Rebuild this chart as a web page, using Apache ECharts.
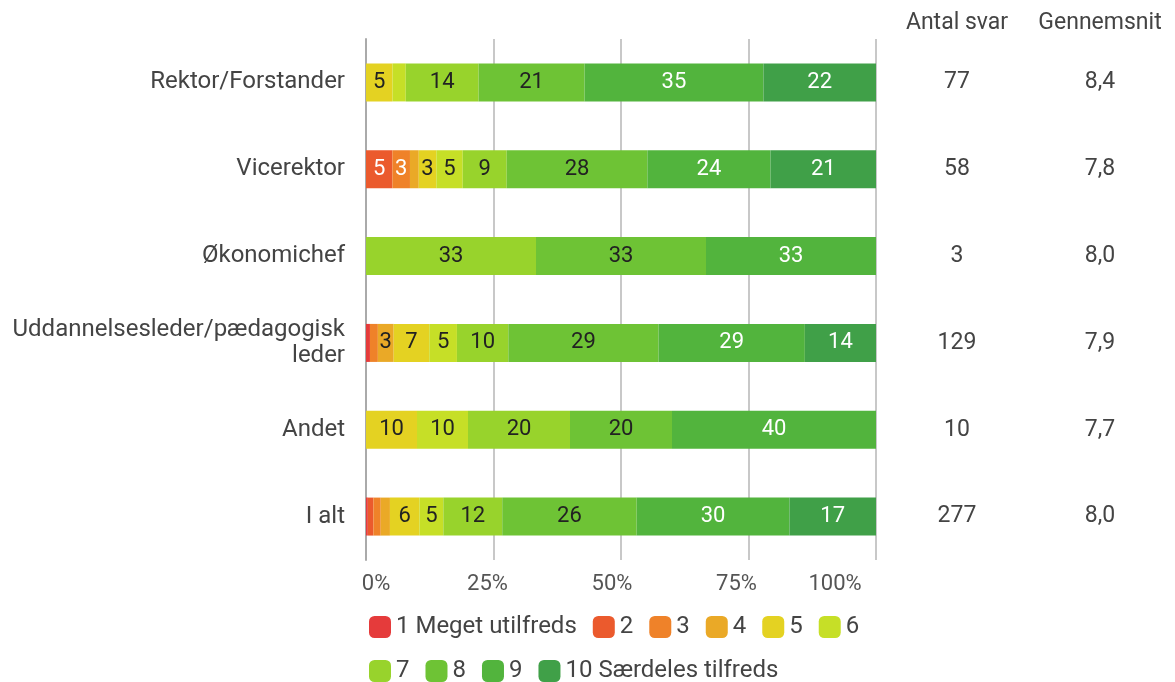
<!DOCTYPE html>
<html>
<head>
<meta charset="utf-8">
<script src="https://cdn.jsdelivr.net/npm/echarts@6/dist/echarts.min.js"></script>
<style>
  html, body { margin: 0; padding: 0; background: #fff; }
  #chart { width: 1175px; height: 682px; }
</style>
</head>
<body>
<div id="chart"></div>
<script>
// kategorier (rækker)
var categories = ['Rektor/Forstander', 'Vicerektor', 'Økonomichef', 'Uddannelsesleder/pædagogisk\nleder', 'Andet', 'I alt'];
// antal besvarelser pr. score 1..10 for hver række
var s1  = [0, 0, 0, 1, 0, 1];
var s2  = [0, 3, 0, 0, 0, 3];
var s3  = [0, 2, 0, 2, 0, 4];
var s4  = [0, 1, 0, 4, 0, 5];
var s5  = [4, 2, 0, 9, 1, 16];
var s6  = [2, 3, 0, 7, 1, 13];
var s7  = [11, 5, 1, 13, 2, 32];
var s8  = [16, 16, 1, 38, 2, 73];
var s9  = [27, 14, 1, 37, 4, 83];
var s10 = [17, 12, 0, 18, 0, 47];
var antalSvar = [77, 58, 3, 129, 10, 277];
var gennemsnit = [8.4, 7.8, 8.0, 7.9, 7.7, 8.0];
var seriesNames = ['1 Meget utilfreds', '2', '3', '4', '5', '6', '7', '8', '9', '10 Særdeles tilfreds'];
var xTicks = [0, 25, 50, 75, 100];

var counts = [s1, s2, s3, s4, s5, s6, s7, s8, s9, s10];
var colors = ['#e53b3b', '#eb5a2d', '#ef8229', '#eaa927', '#e4d222', '#c6df27', '#98d32c', '#6ec335', '#52b43d', '#40a048'];
var labelColors = ['#fff', '#fff', '#fff', '#222', '#222', '#222', '#222', '#222', '#fff', '#fff'];

var chart = echarts.init(document.getElementById('chart'));
var FONT = 'Roboto';

var series = counts.map(function (arr, i) {
  return {
    name: seriesNames[i],
    type: 'bar',
    stack: 'total',
    barWidth: 38,
    yAxisIndex: 0,
    itemStyle: { color: colors[i] },
    label: {
      show: true,
      position: 'inside',
      fontFamily: FONT,
      fontSize: 22,
      color: labelColors[i],
      formatter: function (p) {
        return p.value < 3 ? '' : Math.round(p.value);
      }
    },
    emphasis: { disabled: true },
    data: arr.map(function (c, j) { return c / antalSvar[j] * 100; })
  };
});

// små forskydninger af x-aksens etiketter
var tickPad = { 0: [0, 0, 0, 20], 25: [0, 12, 0, 0], 50: [0, 18, 0, 0], 75: [0, 24, 0, 0], 100: [0, 82, 0, 0] };
var rich = {};
xTicks.forEach(function (t) {
  rich['t' + t] = { fontFamily: FONT, fontSize: 22, color: '#555', padding: tickPad[t] };
});

var option = {
  animation: false,
  textStyle: { fontFamily: FONT },
  grid: { left: 366, right: 299, top: 39, height: 521 },
  legend: {
    data: seriesNames,
    left: 364,
    top: 608,
    width: 520,
    icon: 'roundRect',
    itemWidth: 22,
    itemHeight: 22,
    itemGap: 16,
    textStyle: { fontFamily: FONT, fontSize: 24, color: '#444', lineHeight: 28 }
  },
  xAxis: {
    type: 'value',
    min: 0,
    max: 100,
    interval: 25,
    axisLine: { show: false },
    axisTick: { show: false },
    splitLine: { lineStyle: { color: '#c8c8c8', width: 2 } },
    axisLabel: {
      margin: 13,
      formatter: function (v) { return '{t' + v + '|' + v + '%}'; },
      rich: rich
    }
  },
  yAxis: [
    {
      type: 'category',
      inverse: true,
      data: categories,
      axisLine: { show: true, lineStyle: { color: '#aaa', width: 2 } },
      axisTick: { show: false },
      axisLabel: { margin: 21, fontFamily: FONT, fontSize: 24, color: '#444', lineHeight: 26 }
    },
    {
      type: 'category',
      inverse: true,
      position: 'right',
      data: antalSvar.map(String),
      axisLine: { show: false },
      axisTick: { show: false },
      axisLabel: { align: 'center', margin: 81, fontFamily: FONT, fontSize: 23, color: '#444' }
    },
    {
      type: 'category',
      inverse: true,
      position: 'right',
      data: gennemsnit.map(function (v) { return v.toFixed(1).replace('.', ','); }),
      axisLine: { show: false },
      axisTick: { show: false },
      axisLabel: { align: 'center', margin: 224, fontFamily: FONT, fontSize: 23, color: '#444' }
    }
  ],
  graphic: [
    { type: 'text', x: 957, y: 23, style: { text: 'Antal svar', align: 'center', verticalAlign: 'middle', fontFamily: FONT, fontSize: 23, fill: '#444' } },
    { type: 'text', x: 1100, y: 23, style: { text: 'Gennemsnit', align: 'center', verticalAlign: 'middle', fontFamily: FONT, fontSize: 23, fill: '#444' } }
  ],
  series: series
};

chart.setOption(option);
</script>
</body>
</html>
